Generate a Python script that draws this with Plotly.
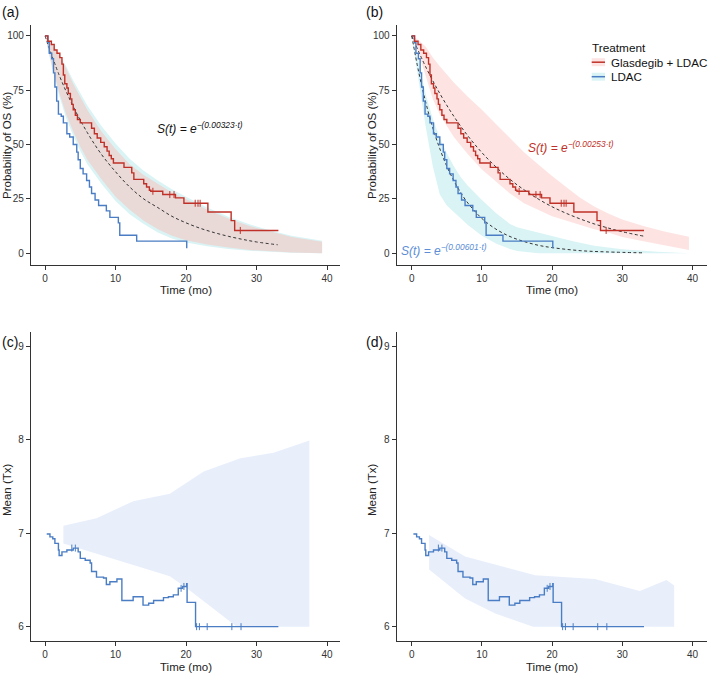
import plotly.graph_objects as go

W, H = 709, 675

# Kaplan-Meier steps (same curves in panels a and b)
glas_t = [0, 0.4, 0.9, 1.3, 1.7, 2.1, 2.4, 2.6, 2.8, 3.1, 3.3, 3.6, 3.8, 4.0, 4.3, 4.6, 5.0,
          6.6, 7.0, 7.4, 7.9, 8.4, 8.8, 9.1, 9.4, 9.7, 11.2, 12.3, 12.6, 14.0, 14.4, 14.8,
          15.0, 16.7, 18.5, 19.7, 23.1, 26.4, 26.9, 33.1]
glas_s = [100, 97.5, 96, 93.5, 92, 90, 87, 82, 78, 76, 73.5, 71, 68.5, 66, 63.5, 61.5, 60,
          57.5, 55, 53, 51, 49, 47, 45, 43.5, 41.5, 39.5, 37, 34, 32, 30.5, 29,
          28.5, 27, 25.5, 23, 19, 15, 10.5, 10.5]
glas_cens_t = [15.3, 17.7, 18.3, 21.3, 21.7, 22.0, 27.7]
glas_cens_s = [28.5, 27, 27, 23, 23, 23, 10.5]

ldac_t = [0, 0.4, 0.6, 0.95, 1.2, 1.4, 1.65, 1.9, 2.3, 2.6, 3.1, 3.5, 4.0, 4.5, 4.7, 5.0, 5.4,
          5.9, 6.3, 6.6, 7.1, 7.6, 8.7, 9.2, 10.4, 10.6, 13.0, 20.1, 20.1]
ldac_s = [100, 97, 92, 89.5, 83, 76.5, 70, 64, 63, 60, 55, 53.5, 50, 46.5, 43, 39, 36.5,
          33.5, 30.5, 27.5, 24.5, 22, 19.5, 16.5, 14, 8.3, 5.6, 5.6, 2.3]

# panel (a): pooled exponential fit and confidence bands
fit_a_t = [0, 2, 4, 6, 8, 10, 12, 14, 16, 18, 20, 22, 24, 26, 28, 30, 33]
fit_a_s = [100, 82, 67.5, 55.5, 45.5, 37.5, 30.5, 25, 21, 17, 14, 11.5, 9.5, 7.8, 6.4, 5.2, 3.9]

band_a_t = [0, 1, 2, 3, 4, 5, 6, 8, 10, 12, 14, 16, 18, 20, 23, 26, 29, 32, 35, 39.3]
band_a_red_hi = [100, 96, 91, 85, 78, 72, 66, 56, 48, 41, 36, 32, 28, 25, 20, 16, 12.5, 10, 7.5, 5.3]
band_a_red_lo = [100, 86, 74, 64, 56, 49, 43, 34, 26, 20, 15, 11, 8, 6, 4, 2.6, 1.5, 0.8, 0.3, 0]
band_a_cyan_hi = [100, 96.5, 91.5, 86, 79.5, 73.5, 68, 58.5, 50.5, 43.5, 38, 33.5, 29.5, 26, 21,
                  16.8, 13.3, 10.5, 8, 5.8]
band_a_cyan_lo = [100, 85, 72.5, 62, 54, 47, 41, 32, 24, 18, 13.5, 9.5, 6.8, 5, 3.2, 2, 1.1, 0.5, 0.2, 0]

# panel (b): separate fits
fit_b_red_t = [0, 2, 4, 6, 8, 10, 12, 14, 16, 18, 20, 22, 24, 26, 28, 30, 33]
fit_b_red_s = [100, 85.7, 73.5, 63, 54, 46.3, 39.7, 34, 29.2, 25, 21.4, 18.4, 15.8, 13.5, 11.6, 9.9, 7.9]
fit_b_blue_t = [0, 1, 2, 3, 4, 5, 6, 7, 8, 10, 12, 14, 16, 18, 20, 24, 28, 33]
fit_b_blue_s = [100, 83.3, 69.4, 57.7, 48.1, 40, 33.4, 27.8, 23.1, 16, 11.1, 7.7, 5.4, 3.7, 2.6, 1.2, 0.6, 0.2]

band_b_red_t = [0, 1, 2, 3, 4, 5, 6, 8, 10, 12, 14, 16, 18, 20, 22, 24, 26, 28, 30, 33, 36, 39.5]
band_b_red_hi = [100, 98, 95, 90, 86, 82, 78.5, 72, 66, 59.5, 53, 46.5, 41, 35.5, 30.5, 25.5, 21.5,
                 18.3, 15.5, 12.5, 10, 7.6]
band_b_red_lo = [100, 92, 82, 71, 64, 58.5, 53.5, 45.5, 38.5, 33, 27.5, 23, 20, 17, 15, 13, 11, 9.5,
                 7.5, 5.5, 3.5, 1.5]
band_b_blue_t = [0, 1, 2, 3, 4, 5, 6, 7, 8, 10, 12, 14, 15, 18, 20, 23, 26, 30, 35, 39.5]
band_b_blue_hi = [100, 88, 73, 62, 53, 46, 40, 35, 31, 24.5, 18.5, 13.5, 12, 9.5, 8, 5.5, 3.5, 1.8, 0.7, 0.2]
band_b_blue_lo = [100, 78, 58, 40, 27, 22, 19, 16, 13, 8, 4.5, 2, 1, 0, 0, 0, 0, 0, 0, 0]

# panels (c) and (d): mean number of treatments
tx_t = [0.24, 0.7, 1.1, 1.4, 1.9, 2.0, 2.4, 3.1, 4.0, 4.7, 5.0, 5.7, 6.4, 6.6, 7.3, 8.3, 8.7,
        9.2, 10.2, 10.9, 12.5, 13.9, 14.7, 15.4, 16.8, 17.5, 18.2, 18.9, 19.5, 20.1, 20.15,
        21.35, 33.1]
tx_v = [6.99, 6.96, 6.94, 6.89, 6.82, 6.76, 6.80, 6.82, 6.84, 6.80, 6.73, 6.71, 6.68, 6.59,
        6.53, 6.52, 6.45, 6.48, 6.51, 6.28, 6.32, 6.23, 6.25, 6.28, 6.31, 6.32, 6.34, 6.41,
        6.43, 6.46, 6.26, 6.0, 6.0]
tx_cens_t = [3.8, 4.3, 19.3, 19.7, 21.5, 21.9, 23.0, 26.5, 27.8]
tx_cens_v = [6.84, 6.84, 6.41, 6.43, 6.0, 6.0, 6.0, 6.0, 6.0]

band_c_hi_t = [2.6, 7.3, 12.5, 17.7, 22.5, 27.7, 32.4, 37.5]
band_c_hi = [7.08, 7.16, 7.34, 7.42, 7.66, 7.80, 7.86, 7.99]
band_c_lo_t = [2.6, 17.7, 19.8, 27.2, 37.5]
band_c_lo = [6.89, 6.54, 6.43, 6.0, 6.0]

band_d_hi_t = [2.47, 7.6, 17.6, 26.1, 32.5, 36.3, 37.4]
band_d_hi = [6.98, 6.75, 6.55, 6.51, 6.38, 6.5, 6.44]
band_d_lo_t = [2.47, 7.6, 11.9, 17.3, 37.4]
band_d_lo = [6.61, 6.30, 6.14, 6.0, 6.0]

RED = "#BF3128"
BLUE = "#4A7DC4"
PINK = "#FDE4E2"
CYAN = "#DAF4F5"
MIX = "#E9DAD8"
TXBAND = "#E8EFFB"
FONT = "Liberation Sans, Arial, sans-serif"


def band(t_hi, hi, t_lo, lo, color, ax):
    return go.Scatter(x=list(t_hi) + list(t_lo)[::-1], y=list(hi) + list(lo)[::-1],
                      fill="toself", fillcolor=color, mode="lines", line=dict(width=0),
                      xaxis=ax[0], yaxis=ax[1], hoverinfo="skip", showlegend=False)


def dashed(t, s, ax):
    return go.Scatter(x=t, y=s, mode="lines", line=dict(color="#333333", width=1, dash="3px,2.5px",
                      shape="spline"), xaxis=ax[0], yaxis=ax[1], showlegend=False)


def steps(t, s, color, ax):
    return go.Scatter(x=t, y=s, mode="lines", line=dict(color=color, width=1.4, shape="hv"),
                      xaxis=ax[0], yaxis=ax[1], showlegend=False)


def cens(t, s, color, ax):
    return go.Scatter(x=t, y=s, mode="markers",
                      marker=dict(symbol="line-ns-open", size=5, color=color,
                                  line=dict(width=1, color=color)),
                      xaxis=ax[0], yaxis=ax[1], showlegend=False)


A, B, C, D = ("x", "y"), ("x2", "y2"), ("x3", "y3"), ("x4", "y4")

fig = go.Figure()

# (a)
fig.add_trace(band(band_a_t, band_a_cyan_hi, band_a_t, band_a_cyan_lo, CYAN, A))
fig.add_trace(band(band_a_t, band_a_red_hi, band_a_t, band_a_red_lo, MIX, A))
fig.add_trace(dashed(fit_a_t, fit_a_s, A))
fig.add_trace(steps(ldac_t, ldac_s, BLUE, A))
fig.add_trace(steps(glas_t, glas_s, RED, A))
fig.add_trace(cens(glas_cens_t, glas_cens_s, RED, A))

# (b)
fig.add_trace(band(band_b_red_t, band_b_red_hi, band_b_red_t, band_b_red_lo, PINK, B))
fig.add_trace(band(band_b_blue_t, band_b_blue_hi, band_b_blue_t, band_b_blue_lo, CYAN, B))
fig.add_trace(dashed(fit_b_red_t, fit_b_red_s, B))
fig.add_trace(dashed(fit_b_blue_t, fit_b_blue_s, B))
fig.add_trace(steps(ldac_t, ldac_s, BLUE, B))
fig.add_trace(steps(glas_t, glas_s, RED, B))
fig.add_trace(cens(glas_cens_t, glas_cens_s, RED, B))

# (c) and (d)
fig.add_trace(band(band_c_hi_t, band_c_hi, band_c_lo_t, band_c_lo, TXBAND, C))
fig.add_trace(steps(tx_t, tx_v, BLUE, C))
fig.add_trace(cens(tx_cens_t, tx_cens_v, BLUE, C))
fig.add_trace(band(band_d_hi_t, band_d_hi, band_d_lo_t, band_d_lo, TXBAND, D))
fig.add_trace(steps(tx_t, tx_v, BLUE, D))
fig.add_trace(cens(tx_cens_t, tx_cens_v, BLUE, D))

axis_style = dict(showline=True, linecolor="#333333", linewidth=1.2, ticks="outside", ticklen=4,
                  tickwidth=1, tickcolor="#333333", showgrid=False, zeroline=False,
                  tickfont=dict(size=10, color="#333333", family=FONT))

left = [31 / W, 340 / W]
right = [396.7 / W, 706.5 / W]
top = [410 / H, 650 / H]
bottom = [34.3 / H, 343 / H]

xa = dict(axis_style, tickvals=[0, 10, 20, 30, 40], range=[-1.99, 41.84])
xb = dict(axis_style, tickvals=[0, 10, 20, 30, 40], range=[-2.14, 42.0])
ys = dict(axis_style, tickvals=[0, 25, 50, 75, 100], range=[-5.4, 105])
yt = dict(axis_style, tickvals=[6, 7, 8, 9], range=[5.85, 9.15])

fig.update_layout(
    width=W, height=H, margin=dict(l=0, r=0, t=0, b=0),
    paper_bgcolor="white", plot_bgcolor="white", font=dict(family=FONT, color="#222222"),
    showlegend=False,
    xaxis=dict(xa, domain=left, anchor="y"),
    yaxis=dict(ys, domain=top, anchor="x"),
    xaxis2=dict(xb, domain=right, anchor="y2"),
    yaxis2=dict(ys, domain=top, anchor="x2"),
    xaxis3=dict(xa, domain=left, anchor="y3"),
    yaxis3=dict(yt, domain=bottom, anchor="x3"),
    xaxis4=dict(xb, domain=right, anchor="y4"),
    yaxis4=dict(yt, domain=bottom, anchor="x4"),
)


def px(x):
    return x / W


def py(y):
    return 1 - y / H


def note(text, x, y, size, color="#222222", xanchor="center", angle=0, xref="paper", yref="paper"):
    if xref == "paper":
        x, y = px(x), py(y)
    return dict(text=text, x=x, y=y, xref=xref, yref=yref, xanchor=xanchor, yanchor="middle",
                textangle=angle, showarrow=False, font=dict(size=size, color=color))


ann = []
# panel letters
for lab, x, y in [("(a)", 0, 12), ("(b)", 364, 12), ("(c)", 0, 342), ("(d)", 364, 342)]:
    ann.append(note(lab, x, y, 14, "#111111", xanchor="left"))
# axis titles
for x, y, txt in [(7, 145, "Probability of OS (%)"), (372, 145, "Probability of OS (%)"),
                  (7, 490, "Mean (Tx)"), (372, 490, "Mean (Tx)")]:
    ann.append(note(txt, x, y, 11.5, angle=-90))
for x, y in [(185.5, 289.5), (551.6, 289.5), (185.5, 667), (551.6, 667)]:
    ann.append(note("Time (mo)", x, y, 11.5))
# fitted formulas
ann.append(note("<i>S(t) = e<sup>−(0.00323·t)</sup></i>", 22, 57.6, 12, "#111111", xref="x", yref="y"))
ann.append(note("<i>S(t) = e<sup>−(0.00253·t)</sup></i>", 22.7, 48.9, 12, RED, xref="x2", yref="y2"))
ann.append(note("<i>S(t) = e<sup>−(0.00601·t)</sup></i>", 4.57, 1.5, 12, "#5B8ED6", xref="x2", yref="y2"))
# legend
ann.append(note("Treatment", 590, 48, 11.8, "#111111", xanchor="left"))
ann.append(note("Glasdegib + LDAC", 609, 62.3, 11.6, "#111111", xanchor="left"))
ann.append(note("LDAC", 609, 76.7, 11.6, "#111111", xanchor="left"))

shapes = []
for yc, fillc, linec in [(62.2, PINK, RED), (76.7, CYAN, BLUE)]:
    shapes.append(dict(type="rect", xref="paper", yref="paper", x0=px(591.7), x1=px(605),
                       y0=py(yc - 4), y1=py(yc + 4), fillcolor=fillc, line=dict(width=0)))
    shapes.append(dict(type="line", xref="paper", yref="paper", x0=px(591.7), x1=px(605),
                       y0=py(yc), y1=py(yc), line=dict(color=linec, width=1.5)))

fig.update_layout(annotations=ann, shapes=shapes)

# the page body has an 8px default margin; drop it so the figure fills the window
fig.write_html("out.html", config={"displayModeBar": False},
               post_script="document.body.style.margin='0';")
